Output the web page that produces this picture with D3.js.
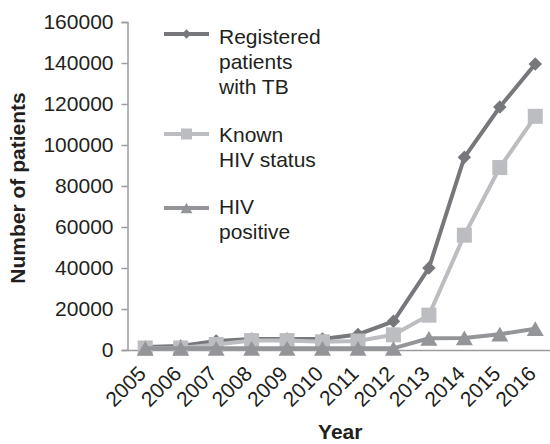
<!DOCTYPE html>
<html>
<head>
<script src="https://d3js.org/d3.v7.min.js"></script>
<style>
  body { margin: 0; background: #fff; }
  text { font-family: "Liberation Sans", Arial, sans-serif; fill: #231f20; }
</style>
</head>
<body>
<script>
const years = ["2005","2006","2007","2008","2009","2010","2011","2012","2013","2014","2015","2016"];
const registeredTB = [1500, 2000, 4400, 5400, 5400, 5400, 7600, 14000, 40000, 94000, 118500, 139500];
const knownHIV = [1000, 1000, 2700, 4600, 4600, 4000, 4400, 7400, 17000, 56000, 89000, 114000];
const hivPositive = [800, 800, 800, 800, 800, 800, 800, 800, 5700, 5900, 7700, 10400];
const yTicks = [0, 20000, 40000, 60000, 80000, 100000, 120000, 140000, 160000];

const width = 550, height = 444;
const plotLeft = 127.5, plotRight = 553, plotTop = 22, plotBottom = 350;

const svg = d3.select("body").append("svg")
    .attr("width", width)
    .attr("height", height);

const x = d3.scaleBand().domain(years).range([plotLeft, plotRight]);
const y = d3.scaleLinear().domain([0, 160000]).range([plotBottom, plotTop]);

// triangle centred on its bounding box, like the spreadsheet markers
const triangle = {
    draw(ctx, size) {
        const s = Math.sqrt(size * 4 / Math.sqrt(3));
        const h = s * Math.sqrt(3) / 2;
        ctx.moveTo(0, -h / 2);
        ctx.lineTo(s / 2, h / 2);
        ctx.lineTo(-s / 2, h / 2);
        ctx.closePath();
    }
};

// y axis
const yAxis = svg.append("g")
    .attr("transform", `translate(${plotLeft},0)`)
    .call(d3.axisLeft(y).tickValues(yTicks).tickSize(6).tickPadding(8).tickFormat(d3.format("d")));
yAxis.select(".domain").attr("stroke", "#9a9b9d").attr("stroke-width", 1.5);
yAxis.selectAll(".tick line").attr("stroke", "#9a9b9d").attr("stroke-width", 1.5);
yAxis.selectAll("text").attr("font-size", 21).attr("fill", "#231f20");

// x axis
const xAxis = svg.append("g")
    .attr("transform", `translate(0,${plotBottom})`)
    .call(d3.axisBottom(x).tickSize(0));
xAxis.select(".domain").attr("stroke", "#9a9b9d").attr("stroke-width", 1.5);
xAxis.selectAll("text")
    .attr("font-size", 21)
    .attr("fill", "#231f20")
    .attr("text-anchor", "end")
    .attr("x", 0).attr("y", 0).attr("dy", 0)
    .attr("transform", "translate(2,25) rotate(-45)");

// axis titles
svg.append("text")
    .attr("x", (plotLeft + plotRight) / 2)
    .attr("y", 439)
    .attr("text-anchor", "middle")
    .attr("font-size", 21)
    .attr("font-weight", "bold")
    .text("Year");

svg.append("text")
    .attr("transform", `translate(25,188) rotate(-90)`)
    .attr("text-anchor", "middle")
    .attr("font-size", 21)
    .attr("font-weight", "bold")
    .text("Number of patients");

const series = [
    { name: ["Registered", "patients", "with TB"], values: registeredTB, color: "#77787b", symbol: d3.symbolDiamond2, size: 115, legendSize: 55 },
    { name: ["Known", "HIV status"], values: knownHIV, color: "#bcbdc0", symbol: d3.symbolSquare, size: 225, legendSize: 121 },
    { name: ["HIV", "positive"], values: hivPositive, color: "#939598", symbol: triangle, size: 125, legendSize: 62 }
];

const line = d3.line()
    .x((d, i) => x(years[i]) + x.bandwidth() / 2)
    .y(d => y(d));

series.forEach(s => {
    const g = svg.append("g");
    g.append("path")
        .attr("d", line(s.values))
        .attr("fill", "none")
        .attr("stroke", s.color)
        .attr("stroke-width", 4);
    g.selectAll("path.marker")
        .data(s.values)
        .enter()
        .append("path")
        .attr("class", "marker")
        .attr("d", d3.symbol().type(s.symbol).size(s.size))
        .attr("fill", s.color)
        .attr("transform", (d, i) => `translate(${x(years[i]) + x.bandwidth() / 2},${y(d)})`);
});

// legend
const legendLineY = [34, 134, 208];
const legendTextY = [43.5, 142, 214];
series.forEach((s, i) => {
    const g = svg.append("g").attr("transform", `translate(164,0)`);
    g.append("line")
        .attr("x1", 0).attr("x2", 45)
        .attr("y1", legendLineY[i]).attr("y2", legendLineY[i])
        .attr("stroke", s.color)
        .attr("stroke-width", 4);
    g.append("path")
        .attr("d", d3.symbol().type(s.symbol).size(s.legendSize))
        .attr("fill", s.color)
        .attr("transform", `translate(22.5,${legendLineY[i]})`);
    s.name.forEach((t, j) => {
        g.append("text")
            .attr("x", 55)
            .attr("y", legendTextY[i] + j * 25)
            .attr("font-size", 21)
            .text(t);
    });
});
</script>
</body>
</html>
